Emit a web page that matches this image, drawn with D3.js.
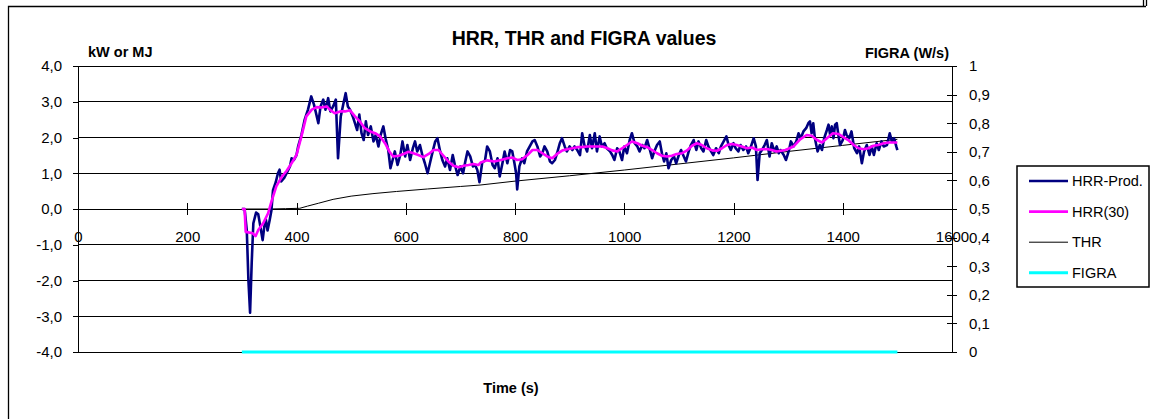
<!DOCTYPE html>
<html lang="en">
  <head>
    <meta charset="utf-8">
    <title>HRR, THR and FIGRA values</title>
    <script type="text/javascript" src="https://d3js.org/d3.v7.min.js" charset="utf-8"></script>
    <style type="text/css">
      body { margin: 0; background: #fff; }
      text { font-family: Arial, "Liberation Sans", sans-serif; fill: #000; }
      .axis path { display: none; }
      .axis line { stroke: #000; shape-rendering: crispEdges; }
      .axis text { font-size: 15px; }
    </style>
  </head>
  <body>
<script type="text/javascript">

// HRR-Prod (kW)
var hrrTime = [300,305,309,312,315,318,321,326,330,334,338,341,344,347,351,354,357,362,366,369,372,377,382,388,391,395,
  400,403,409,415,421,427,432,435,440,444,449,453,458,462,467,472,476,481,486,490,494,498,
  503,507,511,515,519,523,527,531,536,541,545,550,554,559,563,568,572,576,580,585,590,594,599,
  603,608,613,617,621,626,631,635,640,645,650,654,658,663,667,672,676,681,686,690,695,
  700,705,709,713,718,723,727,731,735,740,745,749,754,759,763,768,772,777,781,786,791,795,799,
  802,804,808,813,817,822,827,832,836,841,846,850,854,859,864,868,873,877,882,886,891,895,
  900,905,909,914,919,923,927,932,937,941,946,950,955,959,964,968,974,978,982,987,991,996,
  1000,1005,1010,1014,1019,1024,1028,1033,1037,1042,1047,1051,1055,1060,1065,1069,1073,1077,1081,1086,1091,1095,
  1100,1104,1109,1113,1118,1122,1127,1132,1136,1141,1145,1150,1154,1159,1163,1168,1173,1177,1182,1187,1191,1195,
  1200,1204,1209,1213,1218,1223,1227,1232,1237,1241,1244,1248,1252,1257,1261,1266,1270,1275,1279,1283,1286,1292,1296,
  1301,1305,1310,1315,1319,1323,1328,1333,1337,1340,1343,1346,1349,1354,1358,1362,1366,1371,1374,1377,1380,1383,1386,1389,1392,1395,
  1400,1404,1407,1412,1416,1421,1426,1430,1435,1439,1444,1449,1453,1457,1462,1466,1471,1475,1481,1486,1490,1494,1498,1500];
var hrrProd = [0,0,-0.6,-2.0,-2.9,-1.5,-0.4,-0.1,-0.15,-0.5,-0.87,-0.5,-0.3,-0.6,-0.3,-0.05,0.53,0.75,1.0,1.1,0.77,0.86,1.0,1.19,1.42,1.37,
  1.51,1.75,2.07,2.5,2.78,3.15,2.92,2.73,2.4,2.87,3.06,2.78,3.1,2.73,2.87,3.06,1.42,2.59,2.96,3.24,2.87,2.78,
  2.59,2.4,2.21,2.64,2.12,1.93,2.45,2.07,2.31,1.89,2.07,1.75,2.07,2.31,1.98,1.65,1.14,1.37,1.61,1.23,1.51,1.89,1.47,
  1.79,1.37,1.7,1.89,1.61,1.79,1.47,1.28,1.0,1.33,1.65,1.89,1.98,1.61,1.37,1.19,1.42,1.09,1.51,1.23,0.95,
  1.19,1.0,1.33,1.61,1.47,1.19,1.23,1.09,0.75,1.3,1.35,1.75,1.61,1.23,1.14,1.42,0.91,1.28,1.61,1.28,1.65,1.61,1.28,
  1.0,0.55,1.19,1.42,1.28,1.61,1.75,1.89,1.93,1.75,1.47,1.56,1.75,1.61,1.33,1.28,1.37,1.56,1.84,1.98,1.75,1.61,
  1.75,1.65,1.75,1.65,1.51,2.12,1.79,1.61,2.07,1.7,2.12,1.61,2.03,1.75,1.84,1.7,1.61,1.51,1.37,1.7,1.61,1.37,
  1.75,1.56,1.93,2.12,1.84,1.75,1.61,1.79,1.7,1.93,1.65,1.42,1.61,1.79,1.89,1.56,1.33,1.56,1.14,1.37,1.47,1.28,
  1.51,1.65,1.47,1.33,1.61,1.79,1.93,1.65,1.89,1.7,1.61,1.93,1.75,1.61,1.51,1.7,1.56,1.75,1.89,2.03,1.79,1.65,
  1.84,1.7,1.61,1.79,1.65,1.75,1.56,1.75,1.98,1.75,0.81,1.56,1.65,1.79,1.93,1.47,1.84,1.61,1.75,1.56,1.65,1.51,1.37,
  1.61,1.89,1.75,1.89,2.12,1.98,2.17,2.26,2.4,2.45,2.12,2.4,1.98,1.61,1.79,1.65,1.98,2.21,2.36,2.07,2.31,1.98,2.36,2.4,2.07,1.79,
  1.93,2.21,2.07,1.98,2.17,1.7,1.56,1.75,1.28,1.61,1.79,1.51,1.75,1.51,1.84,1.65,1.89,1.75,1.79,2.12,1.89,1.98,1.75,1.65];

// HRR(30), 30 s running average (kW)
var avgTime = [300,305,307,320,325,330,339,348,354,363,373,382,391,400,409,418,428,437,446,455,461,470,480,489,498,
  507,516,525,535,544,553,562,570,577,587,596,605,614,623,632,642,651,660,669,678,687,697,
  706,715,724,733,737,749,762,774,786,795,804,813,823,832,841,850,859,868,877,887,896,
  905,914,923,932,941,950,960,969,978,987,996,1005,1014,1024,1033,1042,1051,1060,1069,1078,1087,1096,
  1106,1115,1124,1133,1142,1151,1161,1170,1179,1188,1197,1206,1215,1225,1234,1243,1252,1261,1270,1279,1295,
  1310,1322,1334,1343,1353,1362,1371,1382,1392,1401,1410,1420,1429,1438,1447,1456,1465,1475,1484,1493,1500];
var hrr30 = [0,0,-0.64,-0.68,-0.76,-0.59,-0.4,-0.12,0.2,0.63,0.9,1.07,1.28,1.51,2.03,2.59,2.78,2.85,2.84,2.87,2.78,2.68,2.73,2.73,2.76,
  2.59,2.45,2.26,2.17,2.12,2.03,1.84,1.61,1.47,1.49,1.54,1.6,1.56,1.51,1.45,1.54,1.65,1.65,1.49,1.33,1.21,1.17,
  1.21,1.23,1.26,1.23,1.3,1.36,1.33,1.37,1.42,1.44,1.37,1.39,1.51,1.65,1.65,1.56,1.47,1.42,1.54,1.64,1.67,
  1.7,1.73,1.73,1.75,1.75,1.75,1.75,1.7,1.64,1.61,1.7,1.79,1.89,1.84,1.77,1.73,1.65,1.56,1.49,1.47,1.49,1.54,
  1.56,1.64,1.77,1.84,1.79,1.7,1.64,1.63,1.7,1.79,1.82,1.79,1.75,1.7,1.72,1.65,1.67,1.68,1.65,1.61,1.65,
  1.75,1.95,2.07,2.05,1.93,1.86,1.98,2.12,2.1,2.01,1.93,1.79,1.7,1.67,1.7,1.77,1.79,1.84,1.86,1.86,1.86];

// THR (MJ)
var thrTime = [300,350,380,406,420,440,467,500,540,583,640,700,736,800,900,1000,1100,1200,1300,1400,1500];
var thr = [0,0,0.01,0.02,0.08,0.16,0.27,0.36,0.43,0.49,0.56,0.63,0.67,0.78,0.93,1.09,1.26,1.43,1.61,1.78,1.95];

// FIGRA (W/s), right axis
var figraTime = [300,1500];
var figra = [0,0];

var xTicks = [0,200,400,600,800,1000,1200,1400,1600];
var leftTicks = [-4,-3,-2,-1,0,1,2,3,4];
var rightTicks = [0,0.1,0.2,0.3,0.4,0.5,0.6,0.7,0.8,0.9,1];
var legendNames = ["HRR-Prod.","HRR(30)","THR","FIGRA"];
var colors = ["#000080","#ff00ff","#000000","#00ffff"];
var widths = [2.6,2.6,1,3];

var width = 1150, height = 419;
var plot = {left: 78, right: 952, top: 66, bottom: 352};

var svg = d3.select("body").append("svg")
    .attr("width", width)
    .attr("height", height);

// outer chart frame (only top and left edges are visible)
svg.append("path")
    .attr("d", "M8.5,419V6.5H1146")
    .attr("fill", "none").attr("stroke", "#000").attr("stroke-width", 1.3);
svg.append("path")
    .attr("d", "M1143.5,0V6M1146.5,0V6")
    .attr("stroke", "#000").attr("stroke-width", 1.3);

var x = d3.scaleLinear().domain([0, 1600]).range([plot.left, plot.right]);
var y = d3.scaleLinear().domain([-4, 4]).range([plot.bottom, plot.top]);
var y2 = d3.scaleLinear().domain([0, 1]).range([plot.bottom, plot.top]);

// horizontal gridlines
svg.append("g").selectAll("line").data(leftTicks).join("line")
    .attr("x1", plot.left).attr("x2", plot.right)
    .attr("y1", d => y(d)).attr("y2", d => y(d))
    .attr("stroke", "#000").attr("stroke-width", 1)
    .attr("shape-rendering", "crispEdges");

// left axis
var gL = svg.append("g").attr("class", "axis")
    .attr("transform", `translate(${plot.left},0)`)
    .call(d3.axisLeft(y).tickValues(leftTicks).tickSize(5).tickPadding(11)
      .tickFormat(d => d3.format(".1f")(d).replace(".", ",").replace("−", "-")));
gL.append("line").attr("y1", plot.top).attr("y2", plot.bottom);

// right axis with crossing ticks
var gR = svg.append("g").attr("class", "axis")
    .attr("transform", `translate(${plot.right},0)`)
    .call(d3.axisRight(y2).tickValues(rightTicks).tickSize(5).tickPadding(12)
      .tickFormat(d => String(Math.round(d * 10) / 10).replace(".", ",")));
gR.selectAll(".tick line").attr("x1", -5);
gR.append("line").attr("y1", plot.top).attr("y2", plot.bottom);

// x axis sits on the zero line, ticks cross it
var gX = svg.append("g").attr("class", "axis")
    .attr("transform", `translate(0,${y(0)})`)
    .call(d3.axisBottom(x).tickValues(xTicks).tickSize(6).tickPadding(16)
      .tickFormat(d3.format("d")));
gX.selectAll(".tick line").attr("y1", -6);

// series
function series(times, vals, scale) {
  return d3.line().x((d, i) => x(times[i])).y(d => scale(d))(vals);
}
var lines = [
  series(hrrTime, hrrProd, y),
  series(avgTime, hrr30, y),
  series(thrTime, thr, y),
  series(figraTime, figra, y2)
];
var order = [2, 0, 1, 3];
svg.append("g").selectAll("path").data(order).join("path")
    .attr("d", i => lines[i])
    .attr("fill", "none")
    .attr("stroke", i => colors[i])
    .attr("stroke-width", i => widths[i])
    .attr("stroke-linejoin", "round");

// titles
svg.append("text")
    .attr("x", 584).attr("y", 45)
    .attr("text-anchor", "middle")
    .attr("font-size", 19.5).attr("font-weight", "bold")
    .text("HRR, THR and FIGRA values");
svg.append("text")
    .attr("x", 88).attr("y", 57)
    .attr("font-size", 14.5).attr("font-weight", "bold")
    .text("kW or MJ");
svg.append("text")
    .attr("x", 949).attr("y", 58)
    .attr("text-anchor", "end")
    .attr("font-size", 14.5).attr("font-weight", "bold")
    .text("FIGRA (W/s)");
svg.append("text")
    .attr("x", 511).attr("y", 393)
    .attr("text-anchor", "middle")
    .attr("font-size", 14.5).attr("font-weight", "bold")
    .text("Time (s)");

// legend
var legend = svg.append("g");
legend.append("rect")
    .attr("x", 1017).attr("y", 166)
    .attr("width", 132).attr("height", 121)
    .attr("fill", "#fff").attr("stroke", "#000").attr("stroke-width", 1.5);
var rows = legend.selectAll("g.row").data(legendNames).join("g")
    .attr("class", "row")
    .attr("transform", (d, i) => `translate(0,${181 + i * 30.6})`);
rows.append("line")
    .attr("x1", 1029).attr("x2", 1068)
    .attr("stroke", (d, i) => colors[i])
    .attr("stroke-width", (d, i) => widths[i]);
rows.append("text")
    .attr("x", 1072).attr("dy", "0.35em")
    .attr("font-size", 14.5)
    .text(d => d);

</script>
  </body>
</html>
